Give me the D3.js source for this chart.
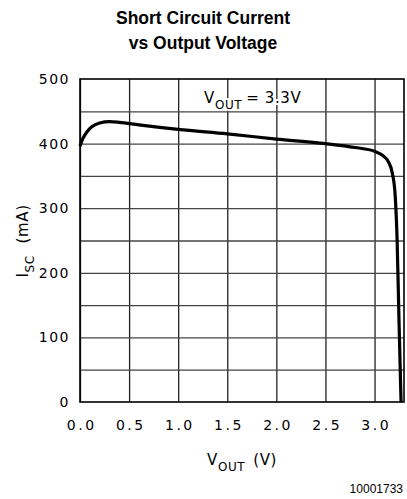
<!DOCTYPE html>
<html>
<head>
<meta charset="utf-8">
<script src="https://cdn.jsdelivr.net/npm/d3@7"></script>
<style>
  body { margin: 0; background: #fff; }
  svg text { fill: #000; }
</style>
</head>
<body>
<div id="chart"></div>
<script>
// curve: output voltage (V) and short circuit current (mA)
var vout = [0.0, 0.03, 0.07, 0.12, 0.2, 0.3, 0.4, 0.6, 1.0, 1.5, 2.0, 2.5, 2.8, 3.0, 3.08, 3.14, 3.18, 3.21, 3.23, 3.25, 3.27];
var isc = [396, 408, 418, 426, 432, 434, 433, 429, 422, 415, 407, 400, 394, 388, 382, 372, 355, 320, 250, 120, 0];
var xTicks = [0.0, 0.5, 1.0, 1.5, 2.0, 2.5, 3.0];
var yTicks = [0, 100, 200, 300, 400, 500];
var yGrid = [50, 100, 150, 200, 250, 300, 350, 400, 450];

function init() {
    var w = 407, h = 499;
    var left = 80, right = 404, top = 79, bottom = 402;

    var xScale = d3.scaleLinear().domain([0, 3.3]).range([left, right]);
    var yScale = d3.scaleLinear().domain([0, 500]).range([bottom, top]);

    var svg = d3.select("#chart").append("svg")
        .attr("width", w)
        .attr("height", h);

    // grid
    svg.append("g")
        .attr("transform", "translate(0," + bottom + ")")
        .call(d3.axisBottom(xScale).tickValues(xTicks).tickSize(-(bottom - top)).tickFormat(""))
        .call(function (g) {
            g.select(".domain").remove();
            g.selectAll("line").attr("stroke", "#222").attr("stroke-width", 1.3);
        });

    svg.append("g")
        .attr("transform", "translate(" + left + ",0)")
        .call(d3.axisLeft(yScale).tickValues(yGrid).tickSize(-(right - left)).tickFormat(""))
        .call(function (g) {
            g.select(".domain").remove();
            g.selectAll("line").attr("stroke", "#444").attr("stroke-width", 1.3);
        });

    // frame
    svg.append("rect")
        .attr("x", left).attr("y", top)
        .attr("width", right - left).attr("height", bottom - top)
        .attr("fill", "none").attr("stroke", "#000").attr("stroke-width", 1.6);

    // tick labels
    svg.append("g")
        .attr("transform", "translate(0," + bottom + ")")
        .call(d3.axisBottom(xScale).tickValues(xTicks).tickSize(0).tickPadding(18).tickFormat(d3.format(".1f")))
        .call(function (g) {
            g.select(".domain").remove();
            g.selectAll("text").attr("font-family", "DejaVu Sans").attr("font-size", 14)
                .attr("letter-spacing", 2.5).attr("dx", 1.2).attr("fill", "#000");
        });

    svg.append("g")
        .attr("transform", "translate(" + left + ",0)")
        .call(d3.axisLeft(yScale).tickValues(yTicks).tickSize(0).tickPadding(10))
        .call(function (g) {
            g.select(".domain").remove();
            g.selectAll("text").attr("font-family", "DejaVu Sans").attr("font-size", 14)
                .attr("letter-spacing", 1.5).attr("fill", "#000");
        });

    // curve
    var line = d3.line()
        .x(function (d, i) { return xScale(vout[i]); })
        .y(function (d) { return yScale(d); })
        .curve(d3.curveMonotoneX);

    svg.append("path")
        .datum(isc)
        .attr("d", line)
        .attr("fill", "none")
        .attr("stroke", "#000")
        .attr("stroke-width", 3.2)
        .attr("stroke-linejoin", "round");

    // annotation, white halo over the grid
    var nt = svg.append("text")
        .attr("x", 204).attr("y", 103)
        .attr("font-family", "DejaVu Sans")
        .attr("font-size", 15)
        .attr("letter-spacing", 0.6)
        .attr("stroke", "#fff")
        .attr("stroke-width", 4)
        .attr("paint-order", "stroke");
    nt.append("tspan").text("V");
    nt.append("tspan").attr("font-size", 12).attr("dy", 6).text("OUT");
    nt.append("tspan").attr("dy", -6).attr("dx", 4).text("= 3.3V");

    // title
    var title = svg.append("text")
        .attr("x", 203)
        .attr("text-anchor", "middle")
        .attr("font-family", "Liberation Sans, Arial, sans-serif")
        .attr("font-weight", "bold")
        .attr("font-size", 17.5);
    title.append("tspan").attr("x", 203).attr("y", 24).text("Short Circuit Current");
    title.append("tspan").attr("x", 203).attr("y", 49).text("vs Output Voltage");

    // x axis label
    var xl = svg.append("text")
        .attr("x", 207).attr("y", 465)
        .attr("font-family", "DejaVu Sans")
        .attr("font-size", 15)
        .attr("letter-spacing", 0.6);
    xl.append("tspan").text("V");
    xl.append("tspan").attr("font-size", 12).attr("dy", 6).text("OUT");
    xl.append("tspan").attr("dy", -6).attr("dx", 8).text("(V)");

    // y axis label
    var yl = svg.append("text")
        .attr("transform", "translate(28,241) rotate(-90)")
        .attr("text-anchor", "middle")
        .attr("font-family", "DejaVu Sans")
        .attr("font-size", 15)
        .attr("letter-spacing", 0.6);
    yl.append("tspan").text("I");
    yl.append("tspan").attr("font-size", 12).attr("dy", 6).text("SC");
    yl.append("tspan").attr("dy", -6).attr("dx", 12).text("(mA)");

    // figure number
    svg.append("text")
        .attr("x", 403).attr("y", 493)
        .attr("text-anchor", "end")
        .attr("font-family", "Liberation Sans, Arial, sans-serif")
        .attr("font-size", 12)
        .text("10001733");
}

window.onload = init;
</script>
</body>
</html>
